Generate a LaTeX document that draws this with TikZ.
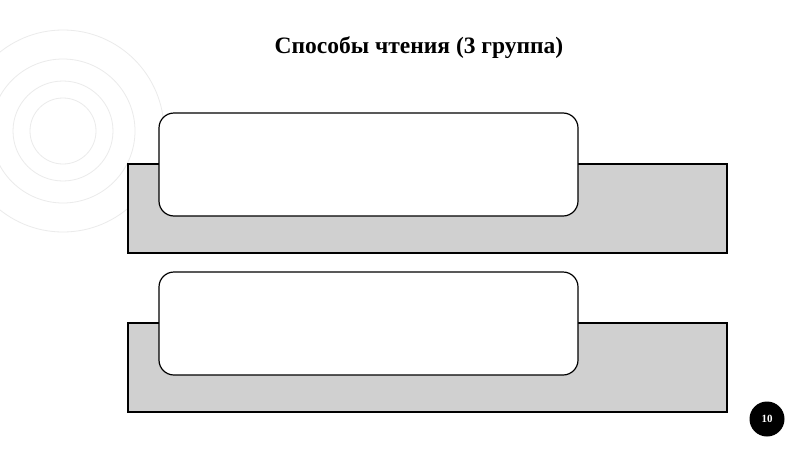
\documentclass[tikz,border=0pt]{standalone}
\usepackage{fontspec}
\setmainfont{Liberation Serif}
\usetikzlibrary{positioning}
\definecolor{panelgray}{HTML}{D0D0D0}
\definecolor{ringgray}{HTML}{EBEBEB}
\tikzset{
    panel/.style={draw=black, line width=1.2pt, fill=panelgray},
    card/.style={draw=black, line width=1.2pt, fill=white, rounded corners=15pt,
        minimum width=419pt, minimum height=103pt, inner sep=0pt},
    ring/.style={draw=ringgray, line width=0.8pt},
}

\begin{document}
\begin{tikzpicture}[x=1pt,y=-1pt]
    \useasboundingbox[fill=white] (0,0) rectangle (800,450);
    % background rings
    \foreach \r in {33,50,72,101}
        \draw[ring] (63,131) circle (\r);
    \node (title) at (419,48) {\fontsize{23.5}{26}\selectfont\bfseries Способы чтения (3 группа)};
    % first block
    \draw[panel] (128,164) rectangle (727,253);
    \node[card] (cardA) at (368.5,164.5) {};
    % second block
    \draw[panel] (128,323) rectangle (727,412);
    \node[card] (cardB) at (368.5,323.5) {};
    % page number
    \node[circle, fill=black, minimum size=35pt, inner sep=0pt, text=white,
        font=\fontsize{11}{12}\selectfont\bfseries] (page) at (767,419) {10};
\end{tikzpicture}
\end{document}
